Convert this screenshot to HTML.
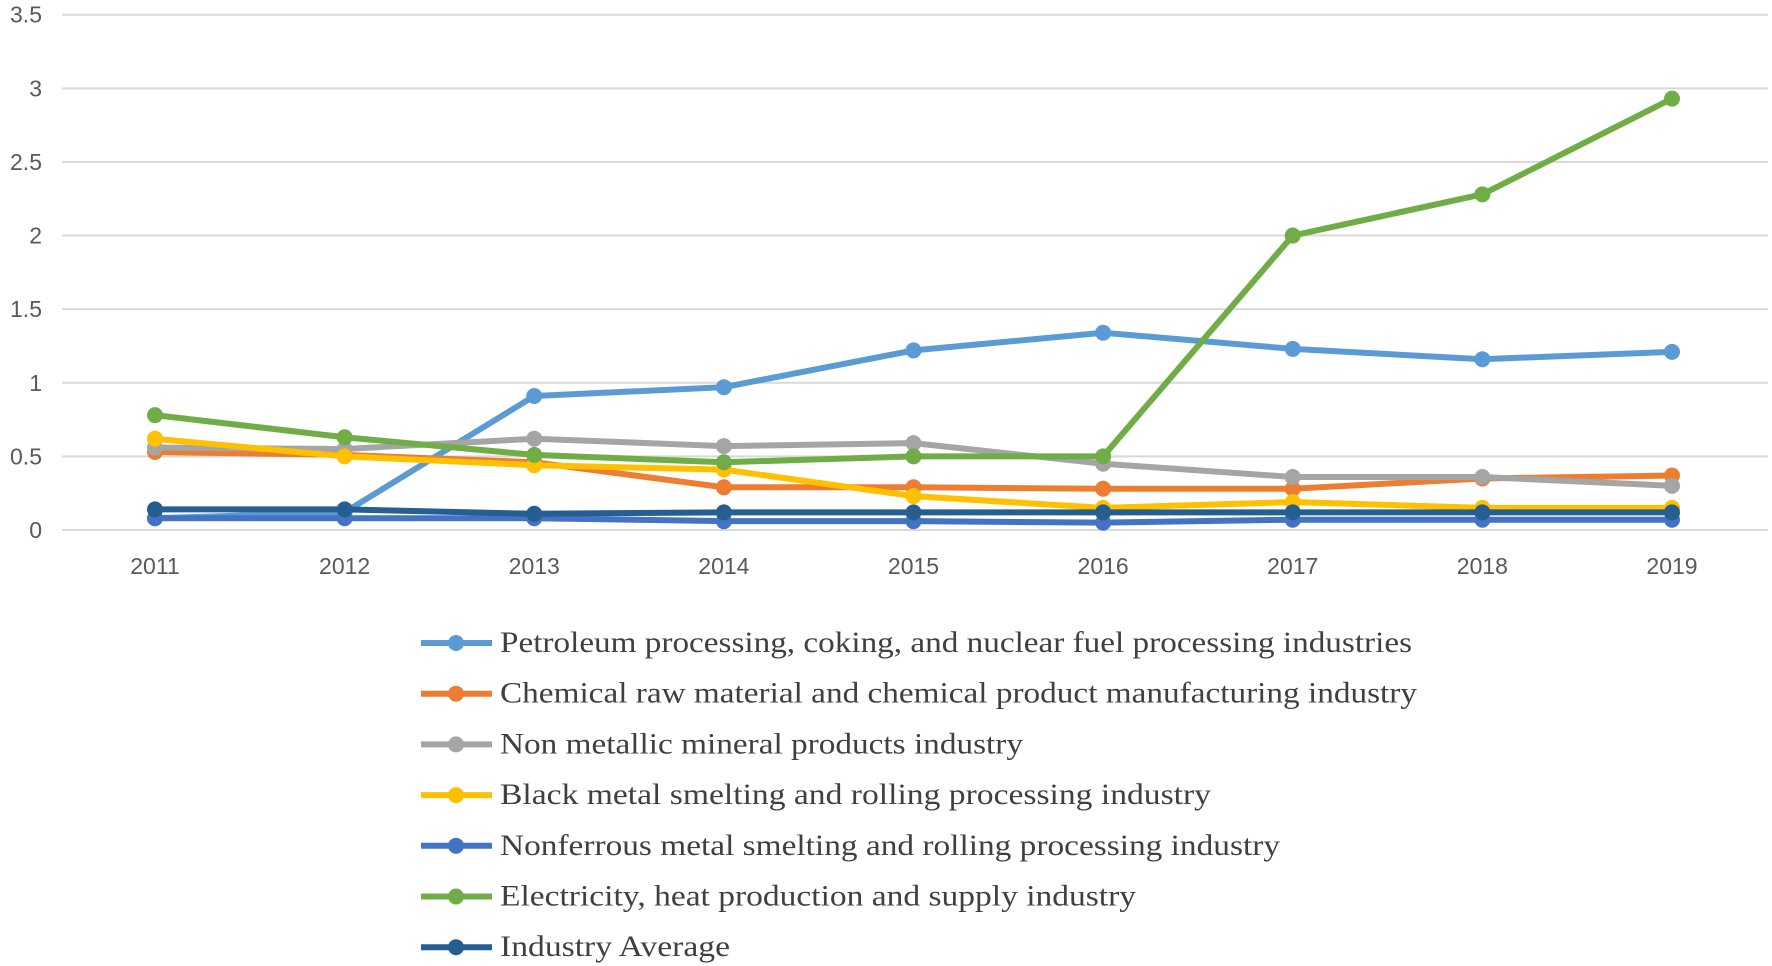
<!DOCTYPE html>
<html><head><meta charset="utf-8"><style>
html,body{margin:0;padding:0;background:#fff;}
svg{display:block;}
</style></head><body>
<svg id="chart" width="1772" height="966" xmlns="http://www.w3.org/2000/svg">
<g id="grid"></g>
<g id="yaxis"></g>
<g id="xaxis"></g>
<g id="series"></g>
<g id="legend"></g>
</svg>
<script>
const years = ["2011","2012","2013","2014","2015","2016","2017","2018","2019"];
const yTicks = [0,0.5,1,1.5,2,2.5,3,3.5];
const yTickLabels = ["0","0.5","1","1.5","2","2.5","3","3.5"];
const seriesNames = [
 "Petroleum processing, coking, and nuclear fuel processing industries",
 "Chemical raw material and chemical product manufacturing industry",
 "Non metallic mineral products industry",
 "Black metal smelting and rolling processing industry",
 "Nonferrous metal smelting and rolling processing industry",
 "Electricity, heat production and supply industry",
 "Industry Average"];
const petroleum   = [0.08,0.12,0.91,0.97,1.22,1.34,1.23,1.16,1.21];
const chemical    = [0.53,0.51,0.46,0.29,0.29,0.28,0.28,0.35,0.37];
const nonMetallic = [0.56,0.55,0.62,0.57,0.59,0.45,0.36,0.36,0.30];
const blackMetal  = [0.62,0.50,0.44,0.41,0.23,0.15,0.19,0.15,0.15];
const nonferrous  = [0.08,0.08,0.08,0.06,0.06,0.05,0.07,0.07,0.07];
const electricity = [0.78,0.63,0.51,0.46,0.50,0.50,2.00,2.28,2.93];
const average     = [0.14,0.14,0.11,0.12,0.12,0.12,0.12,0.12,0.12];

const allSeries=[petroleum,chemical,nonMetallic,blackMetal,nonferrous,electricity,average];
const colors=["#5b9bd5","#ed7d31","#a5a5a5","#ffc000","#4472c4","#70ad47","#255e91"];
const keys=["petroleum","chemical","non-metallic","black-metal","nonferrous","electricity","industry-average"];
const NS="http://www.w3.org/2000/svg";
const X0=155,X1=1672,Y0=530,Y1=14.7,YMAX=3.5,PL=62,PR=1768;
const xs=i=>X0+(X1-X0)*i/(years.length-1);
const ys=v=>Y0-(Y0-Y1)*v/YMAX;
function mk(t,a,p){const e=document.createElementNS(NS,t);for(const k in a)e.setAttribute(k,a[k]);p.appendChild(e);return e;}
const grid=document.getElementById('grid'),ya=document.getElementById('yaxis'),xa=document.getElementById('xaxis'),sg=document.getElementById('series'),lg=document.getElementById('legend');
yTicks.forEach((v,i)=>{
 const l=mk('line',{x1:PL,x2:PR,y1:ys(v),y2:ys(v),stroke:'#d9d9d9','stroke-width':2},grid);
 
 
 const t=mk('text',{x:42,y:ys(v)+8,'text-anchor':'end','font-family':'Liberation Sans, sans-serif','font-size':23,fill:'#595959'},ya);
 t.textContent=yTickLabels[i];
 
 
});
years.forEach((y,i)=>{
 const t=mk('text',{x:xs(i),y:574,'text-anchor':'middle','font-family':'Liberation Sans, sans-serif','font-size':23,fill:'#595959'},xa);
 t.textContent=y;
 
 
});
allSeries.forEach((d,s)=>{
 const g=mk('g',{},sg);
 
 
 const pts=d.map((v,i)=>xs(i)+','+ys(v)).join(' ');
 const pl=mk('polyline',{points:pts,fill:'none',stroke:colors[s],'stroke-width':6,'stroke-linejoin':'round','stroke-linecap':'round'},g);
 
 
 d.forEach((v,i)=>{
  const c=mk('circle',{cx:xs(i),cy:ys(v),r:8,fill:colors[s]},g);
  
  
 });
});
const lw=[912,917,523,711,780,636,230];
seriesNames.forEach((n,s)=>{
 const y=643+s*50.7;
 const g=mk('g',{},lg);
 
 
 mk('line',{x1:421,x2:492,y1:y,y2:y,stroke:colors[s],'stroke-width':6},g);
 mk('circle',{cx:456,cy:y,r:8,fill:colors[s]},g);
 const t=mk('text',{x:500,y:y+9,'font-family':'Liberation Serif, serif','font-size':30,fill:'#404040',textLength:lw[s],lengthAdjust:'spacingAndGlyphs'},g);
 t.textContent=n;
});
</script>
</body></html>
